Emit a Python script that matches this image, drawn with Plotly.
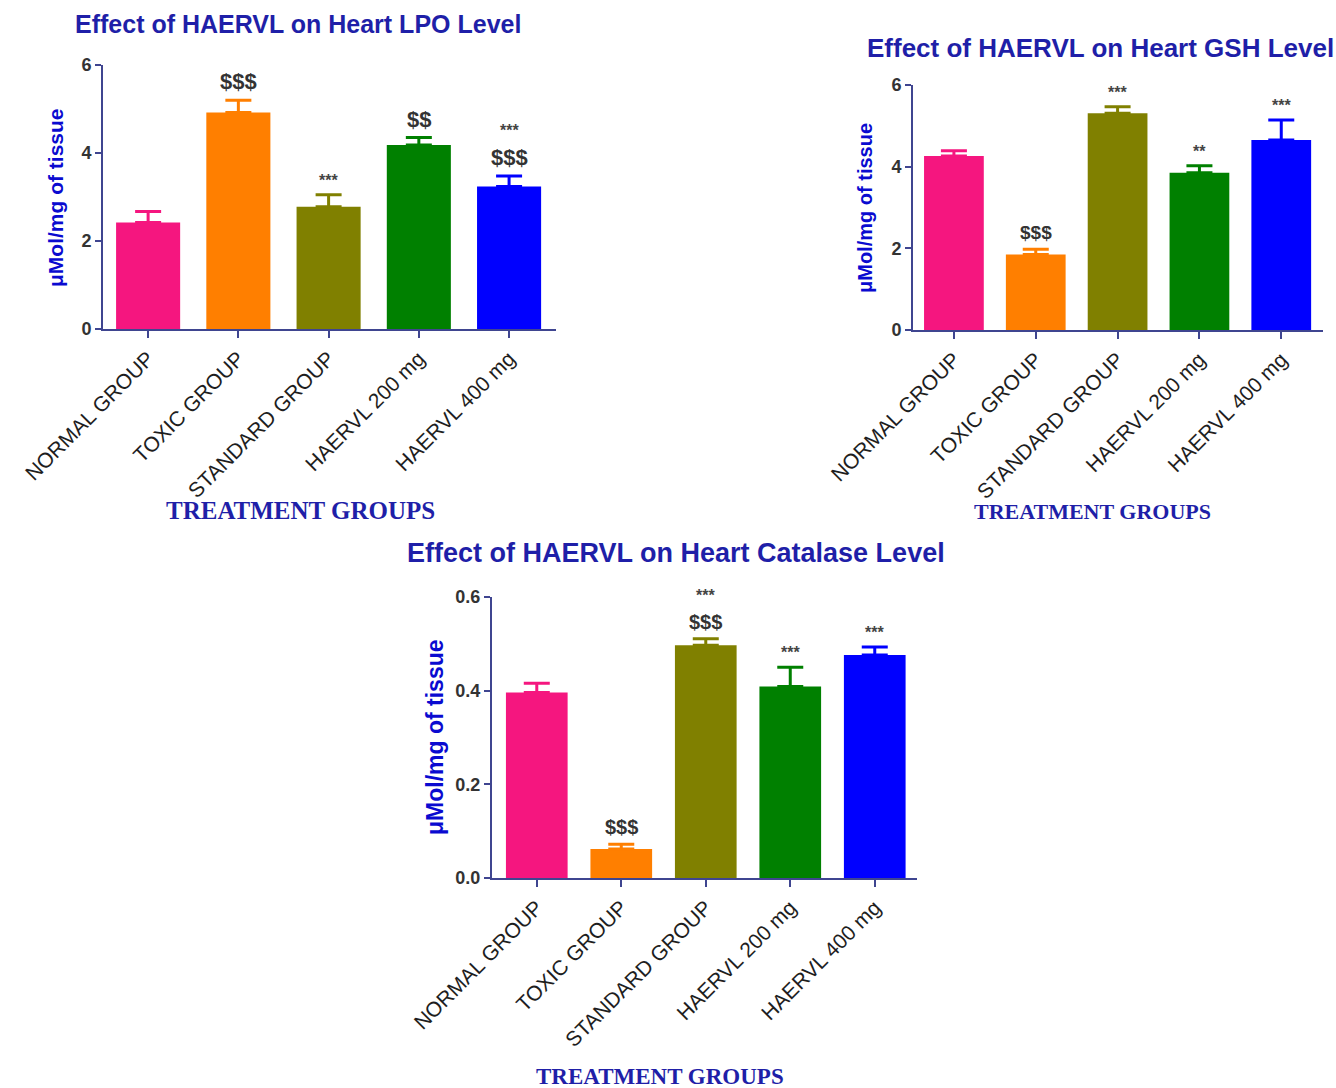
import plotly.graph_objects as go

# Treatment groups shared by all three panels
groups = ["NORMAL GROUP", "TOXIC GROUP", "STANDARD GROUP", "HAERVL 200 mg", "HAERVL 400 mg"]
bar_colors = ["#f5167f", "#ff7f00", "#808000", "#008000", "#0000ff"]

# Heart LPO level (µMol/mg of tissue): mean and SEM
lpo_mean = [2.42, 4.92, 2.78, 4.18, 3.24]
lpo_sem = [0.25, 0.28, 0.27, 0.17, 0.24]
lpo_dollar = ["", "$$$", "", "$$", "$$$"]
lpo_star = ["", "", "***", "", "***"]

# Heart GSH level
gsh_mean = [4.26, 1.85, 5.31, 3.85, 4.65]
gsh_sem = [0.13, 0.13, 0.16, 0.17, 0.49]
gsh_dollar = ["", "$$$", "", "", ""]
gsh_star = ["", "", "***", "**", "***"]

# Heart catalase level
cat_mean = [0.396, 0.062, 0.497, 0.409, 0.476]
cat_sem = [0.020, 0.010, 0.014, 0.041, 0.017]
cat_dollar = ["", "$$$", "$$$", "", ""]
cat_star = ["", "", "***", "***", "***"]

W, H = 1336, 1088
AXIS = "#3f4590"
TITLE_BLUE = "#1f1fa8"
LABEL_BLUE = "#0a0ad0"
SANS = "Liberation Sans, Arial, sans-serif"
SERIF = "Liberation Serif, Times New Roman, serif"


def px_x(a, b):
    return [a / W, b / W]


def px_y(top, bottom):
    return [1 - bottom / H, 1 - top / H]


panels = [
    dict(mean=lpo_mean, sem=lpo_sem, dollar=lpo_dollar, star=lpo_star,
         xd=px_x(103, 556), yd=px_y(65, 329), yr=[0, 6], dt=2, fmt="",
         xr=[-0.5, 4.52], bw=0.71, tick=21, dsize=22,
         title="Effect of HAERVL on Heart LPO Level", tpos=(298, 24), tsize=25,
         ylpos=(55, 198), ylsize=21, xtpos=(300, 510), xtsize=25),
    dict(mean=gsh_mean, sem=gsh_sem, dollar=gsh_dollar, star=gsh_star,
         xd=px_x(913, 1323), yd=px_y(85, 330), yr=[0, 6], dt=2, fmt="",
         xr=[-0.5, 4.51], bw=0.73, tick=21, dsize=19,
         title="Effect of HAERVL on Heart GSH Level", tpos=(1100, 48), tsize=26,
         ylpos=(865, 208), ylsize=20, xtpos=(1092, 511), xtsize=22),
    dict(mean=cat_mean, sem=cat_sem, dollar=cat_dollar, star=cat_star,
         xd=px_x(492, 917), yd=px_y(597, 878), yr=[0, 0.6], dt=0.2, fmt=".1f",
         xr=[-0.53, 4.5], bw=0.73, tick=21, dsize=20,
         title="Effect of HAERVL on Heart Catalase Level", tpos=(676, 553), tsize=27,
         ylpos=(435, 737), ylsize=23, xtpos=(660, 1076), xtsize=23),
]

fig = go.Figure()
annotations = []
layout = {}

for i, p in enumerate(panels, start=1):
    xa = "x" if i == 1 else f"x{i}"
    ya = "y" if i == 1 else f"y{i}"
    # one trace per group so each error bar takes its bar's colour
    for g, m, s, c in zip(groups, p["mean"], p["sem"], bar_colors):
        fig.add_trace(go.Bar(
            x=[g], y=[m], width=p["bw"], xaxis=xa, yaxis=ya,
            marker=dict(color=c, line=dict(width=0)),
            error_y=dict(type="data", array=[s], arrayminus=[0], symmetric=False,
                         color=c, thickness=3, width=13),
            showlegend=False, hoverinfo="skip",
        ))
    common_x = dict(domain=p["xd"], range=p["xr"], type="category",
                    categoryorder="array", categoryarray=groups,
                    showline=True, linecolor=AXIS, linewidth=2,
                    ticks="outside", ticklen=7, tickwidth=2, tickcolor=AXIS,
                    tickangle=-45, showgrid=False, zeroline=False, automargin=False,
                    tickfont=dict(family=SANS, size=p["tick"], color="#1e1e1e"),
                    anchor=ya, fixedrange=True)
    common_y = dict(domain=p["yd"], range=p["yr"], dtick=p["dt"], tick0=0,
                    tickformat=p["fmt"], showline=True, linecolor=AXIS, linewidth=2,
                    ticks="outside", ticklen=6, tickwidth=2, tickcolor=AXIS,
                    showgrid=False, zeroline=False, automargin=False,
                    tickfont=dict(family=SANS, size=18, color="#333333", weight="bold"),
                    anchor=xa, fixedrange=True)
    layout["xaxis" if i == 1 else f"xaxis{i}"] = common_x
    layout["yaxis" if i == 1 else f"yaxis{i}"] = common_y

    # significance markers above the error caps
    for g, m, s, d, st in zip(groups, p["mean"], p["sem"], p["dollar"], p["star"]):
        top = m + s
        shift = 4
        if d:
            annotations.append(dict(x=g, y=top, xref=xa, yref=ya, text=d,
                                    showarrow=False, yanchor="bottom", yshift=shift,
                                    font=dict(family=SANS, size=p["dsize"], color="#333333",
                                              weight="bold")))
            shift += p["dsize"] + 9
        if st:
            annotations.append(dict(x=g, y=top, xref=xa, yref=ya, text=st,
                                    showarrow=False, yanchor="bottom", yshift=shift,
                                    font=dict(family=SANS, size=16, color="#444444",
                                              weight="bold")))

    tx, ty = p["tpos"]
    annotations.append(dict(x=tx / W, y=1 - ty / H, xref="paper", yref="paper",
                            text=p["title"], showarrow=False, xanchor="center", yanchor="middle",
                            font=dict(family=SANS, size=p["tsize"], color=TITLE_BLUE, weight="bold")))
    lx, ly = p["ylpos"]
    annotations.append(dict(x=lx / W, y=1 - ly / H, xref="paper", yref="paper",
                            text="μMol/mg of tissue", textangle=-90, showarrow=False,
                            xanchor="center", yanchor="middle",
                            font=dict(family=SANS, size=p["ylsize"], color=LABEL_BLUE, weight="bold")))
    gx, gy = p["xtpos"]
    annotations.append(dict(x=gx / W, y=1 - gy / H, xref="paper", yref="paper",
                            text="TREATMENT GROUPS", showarrow=False,
                            xanchor="center", yanchor="middle",
                            font=dict(family=SERIF, size=p["xtsize"], color=TITLE_BLUE, weight="bold")))

fig.update_layout(
    width=W, height=H, margin=dict(l=0, r=0, t=0, b=0, autoexpand=False),
    paper_bgcolor="white", plot_bgcolor="white",
    barmode="overlay", annotations=annotations, **layout,
)

fig.write_html("out.html", config={"displayModeBar": False})
